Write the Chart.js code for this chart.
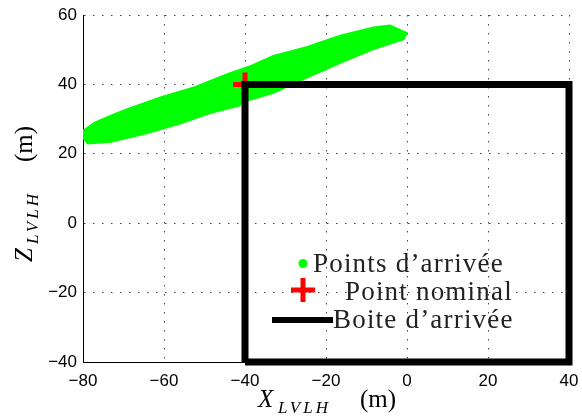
<!DOCTYPE html>
<html lang="fr">
<head>
<meta charset="UTF-8">
<title>Points d'arrivée</title>
<style>
  body{ margin:0; background:#fff; }
  #wrap{ width:582px; height:418px; }
</style>
</head>
<body>
<div id="wrap"><canvas id="c" width="582" height="418"></canvas></div>
<script src="https://cdn.jsdelivr.net/npm/chart.js"></script>
<script>
"use strict";

// green cloud outline (upper edge left->right, lower edge right->left)
const cloudTopX = [-80, -77.1, -73.1, -68.9, -60.7, -52.4, -44.2, -38.5, -33.0, -24.8, -16.5, -8.3, -4.2, -0.1];
const cloudTopY = [26.6, 29.0, 31.0, 32.9, 36.3, 39.2, 43.0, 45.3, 48.2, 50.7, 54.0, 56.4, 57.0, 54.8];
const cloudBotX = [-0.8, -8.3, -16.5, -24.8, -33.0, -38.8, -41.7, -48.4, -56.5, -64.8, -73.1, -78.8, -80];
const cloudBotY = [53.0, 50.2, 46.2, 42.0, 37.6, 35.6, 33.8, 31.8, 28.6, 25.8, 23.5, 23.0, 24.6];

const nominalX = [-40];
const nominalY = [40];

const boxX = [-40, -40, 40, 40, -40];
const boxY = [-40, 40, 40, -40, -40];

const xTicks = [-80, -60, -40, -20, 0, 20, 40];
const yTicks = [-40, -20, 0, 20, 40, 60];

const labels = ["Points d\u2019arrivée", "Point nominal", "Boite d\u2019arrivée"];

const pts = (xs, ys) => xs.map((x, i) => ({ x: x, y: ys[i] }));
const cloud = pts(cloudTopX, cloudTopY).concat(pts(cloudBotX, cloudBotY));

// axis titles with subscripts + legend inside the plot
const extras = {
  id: "extras",
  afterDraw(chart) {
    const ctx = chart.ctx;
    const a = chart.chartArea;
    ctx.save();
    ctx.fillStyle = "#000";
    ctx.textBaseline = "alphabetic";
    ctx.textAlign = "left";

    // X title
    let cx = (a.left + a.right) / 2 - 68;
    const by = 407;
    ctx.font = "italic 25px 'Liberation Serif'";
    ctx.fillText("X", cx, by);
    ctx.font = "italic 17px 'Liberation Serif'";
    ctx.letterSpacing = "3px";
    ctx.fillText("LVLH", cx + 20, by + 6);
    ctx.letterSpacing = "0px";
    ctx.font = "25px 'Liberation Serif'";
    ctx.fillText("(m)", cx + 102, by);

    // Z title (rotated)
    ctx.save();
    ctx.translate(32, 262);
    ctx.rotate(-Math.PI / 2);
    ctx.font = "italic 25px 'Liberation Serif'";
    ctx.fillText("Z", 0, 0);
    ctx.font = "italic 17px 'Liberation Serif'";
    ctx.letterSpacing = "3px";
    ctx.fillText("LVLH", 18, 6);
    ctx.letterSpacing = "0px";
    ctx.font = "25px 'Liberation Serif'";
    ctx.fillText("(m)", 100, 0);
    ctx.restore();

    // legend
    const ds = chart.data.datasets;
    ctx.font = "27px 'Liberation Serif'";
    ctx.letterSpacing = "1.2px";
    ctx.fillStyle = "#00ff00";
    ctx.beginPath();
    ctx.arc(303, 263.5, 4.5, 0, 2 * Math.PI);
    ctx.fill();
    ctx.fillStyle = "#222";
    ctx.fillText(ds[0].label, 313, 272);

    ctx.strokeStyle = "#ff0000";
    ctx.lineWidth = 5;
    ctx.beginPath();
    ctx.moveTo(291, 290); ctx.lineTo(315, 290);
    ctx.moveTo(303, 278); ctx.lineTo(303, 302);
    ctx.stroke();
    ctx.fillText(ds[1].label, 345, 300);

    ctx.strokeStyle = "#000";
    ctx.lineWidth = 6;
    ctx.beginPath();
    ctx.moveTo(272, 320); ctx.lineTo(333, 320);
    ctx.stroke();
    ctx.fillText(ds[2].label, 333, 328);
    ctx.restore();
  }
};

new Chart(document.getElementById("c"), {
  type: "scatter",
  data: {
    datasets: [
      {
        label: labels[0],
        data: cloud,
        showLine: true,
        fill: "shape",
        backgroundColor: "#00ff00",
        borderColor: "#00ff00",
        borderWidth: 2,
        pointRadius: 0,
        order: 3
      },
      {
        label: labels[1],
        data: pts(nominalX, nominalY),
        pointStyle: "cross",
        pointRadius: 12,
        borderWidth: 5,
        borderColor: "#ff0000",
        backgroundColor: "#ff0000",
        order: 2
      },
      {
        label: labels[2],
        data: pts(boxX, boxY),
        showLine: true,
        borderColor: "#000",
        borderWidth: 7,
        borderJoinStyle: "miter",
        pointRadius: 0,
        fill: false,
        clip: 4,
        order: 1
      }
    ]
  },
  options: {
    responsive: false,
    animation: false,
    layout: { autoPadding: false, padding: { top: 15, right: 13, left: 0, bottom: 0 } },
    plugins: { legend: { display: false }, tooltip: { enabled: false } },
    scales: {
      x: {
        type: "linear", min: -80, max: 40,
        afterFit(s) { s.height = 56; s.paddingLeft = 0; s.paddingRight = 0; },
        afterBuildTicks(s) { s.ticks = xTicks.map(v => ({ value: v })); },
        ticks: { color: "#000", padding: 9, maxRotation: 0, font: { family: "'Liberation Sans', Arial", size: 17 },
                 callback: v => String(v).replace("-", "\u2212") },
        grid: { color: "#444", lineWidth: 1, drawTicks: false },
        border: { display: true, color: "#000", width: 1, dash: [1.5, 7.5] }
      },
      y: {
        type: "linear", min: -40, max: 60,
        afterFit(s) { s.width = 83; s.paddingTop = 0; s.paddingBottom = 0; },
        afterBuildTicks(s) { s.ticks = yTicks.map(v => ({ value: v })); },
        ticks: { color: "#000", padding: 6, font: { family: "'Liberation Sans', Arial", size: 17 },
                 callback: v => String(v).replace("-", "\u2212") },
        grid: { color: "#444", lineWidth: 1, drawTicks: false },
        border: { display: true, color: "#000", width: 1, dash: [1.5, 7.5] }
      }
    }
  },
  plugins: [extras]
});
</script>
</body>
</html>
